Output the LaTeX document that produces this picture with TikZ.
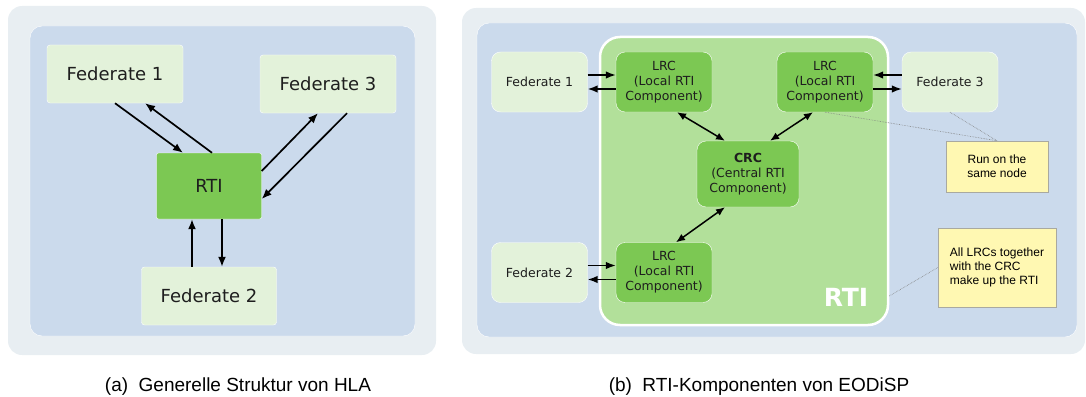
\documentclass[tikz,border=0pt]{standalone}
\usepackage{fontspec}
\setmainfont{DejaVu Sans}
\newfontfamily\notefont{Liberation Sans}
\usepackage{tikz}
\usetikzlibrary{arrows.meta}
\definecolor{panelout}{HTML}{E8EEF2}
\definecolor{panelin}{HTML}{CBDAEC}
\definecolor{fedbg}{HTML}{E3F2DA}
\definecolor{greenbox}{HTML}{7CC853}
\definecolor{rtibg}{HTML}{B2E09A}
\definecolor{notebg}{HTML}{FFF8B2}
\definecolor{noteline}{HTML}{A9A9A0}
\definecolor{txt}{HTML}{1E1E1E}

\begin{document}
\begin{tikzpicture}[x=1pt,y=-1pt,>={Latex[length=10pt,width=8pt]},
    fedbig/.style={draw=white,fill=fedbg,rounded corners=3pt,text=txt,
      font=\fontsize{18}{22}\selectfont,minimum height=58pt},
    fedsmall/.style={draw=white,fill=fedbg,rounded corners=9pt,text=txt,
      font=\fontsize{12.5}{15}\selectfont,minimum width=96pt,minimum height=60pt},
    comp/.style={draw=white,fill=greenbox,rounded corners=9pt,text=txt,align=center,
      font=\fontsize{12.5}{15}\selectfont,minimum width=96pt,minimum height=60pt},
    note/.style={draw=noteline,fill=notebg,text=black,
      font=\notefont\fontsize{12}{14}\selectfont},
    link/.style={->,line width=1.7pt},
    sidelink/.style={->,line width=1.5pt,>={Latex[length=10pt,width=7.5pt]}},
    duplex/.style={<->,line width=1.5pt,>={Latex[length=9pt,width=7.5pt]}},
    hint/.style={densely dotted,gray,line width=0.6pt}]
    \useasboundingbox (0,0) rectangle (1086,396);
    % (a)
    \fill[panelout] (8,6) [rounded corners=14pt] rectangle (436,355);
    \draw[white,fill=panelin,rounded corners=12pt] (30,26) rectangle (415,336);
    \node[fedbig,minimum width=136pt] (f1) at (115,74) {Federate 1};
    \node[fedbig,minimum width=136pt] (f3) at (328,84) {Federate 3};
    \node[fedbig,minimum width=135pt] (f2) at (209,296) {Federate 2};
    \node[draw=white,fill=greenbox,rounded corners=2pt,text=txt,
      font=\fontsize{18}{22}\selectfont,minimum width=105pt,minimum height=66pt] (rti) at (209,186) {RTI};
    \draw[link] (f1.south) -- ([xshift=-26pt]rti.north);
    \draw[link] ([xshift=3pt]rti.north) -- ([xshift=30pt]f1.south);
    \draw[link] ([yshift=15pt]rti.east) -- ([xshift=-10pt]f3.south);
    \draw[link] ([xshift=19pt]f3.south) -- ([yshift=-13pt]rti.east);
    \draw[link] ([xshift=-17pt]f2.north) -- ([xshift=-17pt]rti.south);
    \draw[link] ([xshift=13pt]rti.south) -- ([xshift=13pt]f2.north);
    % (b)
    \fill[panelout] (462,8) [rounded corners=14pt] rectangle (1085,354);
    \draw[white,fill=panelin,rounded corners=12pt] (477,23) rectangle (1077,337);
    \node[draw=white,line width=2.5pt,fill=rtibg,rounded corners=20pt,
      minimum width=288pt,minimum height=288pt] (rtibox) at (744,181) {};
    \node[white,font=\bfseries\fontsize{25}{25}\selectfont] (rtilabel) at (846,297) {RTI};
    \node[fedsmall] (fa) at (539.5,82) {Federate 1};
    \node[fedsmall] (fb) at (539.5,272.5) {Federate 2};
    \node[fedsmall] (fc) at (950,82) {Federate 3};
    \node[comp] (lrc1) at (664,82) {LRC\\(Local RTI\\Component)};
    \node[comp] (lrc2) at (664,272.5) {LRC\\(Local RTI\\Component)};
    \node[comp] (lrc3) at (825,82) {LRC\\(Local RTI\\Component)};
    \node[comp,minimum width=102pt,minimum height=66pt] (crc) at (748,174) {\textbf{CRC}\\(Central RTI\\Component)};
    \node[note,align=center,minimum width=102pt,minimum height=51pt] (n1) at (997,166.5) {Run on the\\same node};
    \node[note,align=left,minimum width=118pt,minimum height=79pt] (n2) at (997,267.5) {All LRCs together\\with the CRC\\make up the RTI};
    \draw[sidelink] ([yshift=7pt]fa.east) -- ([yshift=7pt]lrc1.west);
    \draw[sidelink] ([yshift=-7pt]lrc1.west) -- ([yshift=-7pt]fa.east);
    \draw[sidelink] ([yshift=7pt]fb.east) -- ([yshift=7pt]lrc2.west);
    \draw[sidelink] ([yshift=-7pt]lrc2.west) -- ([yshift=-7pt]fb.east);
    \draw[sidelink] ([yshift=7pt]fc.west) -- ([yshift=7pt]lrc3.east);
    \draw[sidelink] ([yshift=-7pt]lrc3.east) -- ([yshift=-7pt]fc.west);
    \draw[duplex] ([xshift=13pt]lrc1.south) -- ([xshift=-23pt]crc.north);
    \draw[duplex] ([xshift=-12pt]lrc3.south) -- ([xshift=22pt]crc.north);
    \draw[duplex] ([xshift=-23pt]crc.south) -- ([xshift=12pt]lrc2.north);
    \draw[hint] (lrc3.south) -- (n1.north);
    \draw[hint] (fc.south) -- (n1.north);
    \draw[hint] ([yshift=-115pt]rtibox.east) -- (n2.west);
    % captions
    \node[font=\notefont\fontsize{19}{22}\selectfont,anchor=base] (capa) at (238,391) {(a)\hspace{0.55em}Generelle Struktur von HLA};
    \node[font=\notefont\fontsize{19}{22}\selectfont,anchor=base] (capb) at (759,391) {(b)\hspace{0.55em}RTI-Komponenten von EODiSP};
\end{tikzpicture}
\end{document}
